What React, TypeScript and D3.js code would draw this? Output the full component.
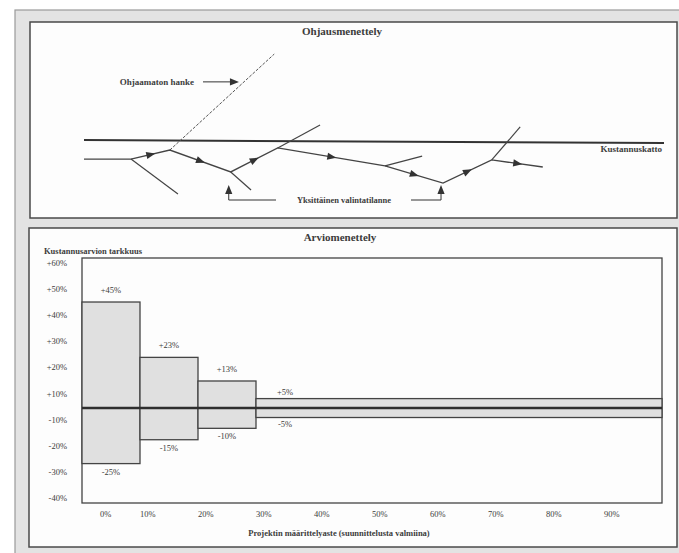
import React from 'react';
import * as d3 from 'd3';

// ---------- Arviomenettely (estimate accuracy) ----------
const phaseStart = [0, 10, 20, 30];
const phaseEnd = [10, 20, 30, 100];
const upperError = [45, 23, 13, 5];
const lowerError = [-25, -15, -10, -5];
const upperLabels = ['+45%', '+23%', '+13%', '+5%'];
const lowerLabels = ['-25%', '-15%', '-10%', '-5%'];
const yTickLabels = ['+60%', '+50%', '+40%', '+30%', '+20%', '+10%', '-10%', '-20%', '-30%', '-40%'];
const xTickValues = [0, 10, 20, 30, 40, 50, 60, 70, 80, 90];
const xTickLabels = ['0%', '10%', '20%', '30%', '40%', '50%', '60%', '70%', '80%', '90%'];

// ---------- Ohjausmenettely (control procedure) schematic: time / cost ----------
const pathTime = [0, 8.1, 14.8, 25.3, 33.4, 51.9, 61.9, 70.3, 79.1];
const pathCost = [27.3, 27.3, 33.3, 18.7, 34.7, 22.7, 11.3, 26.7, 22];
const branchFrom = [1, 3, 4, 5, 7];
const branchToTime = [16.2, 28.8, 40.7, 58.3, 75.2];
const branchToCost = [4, 6.7, 50, 29.3, 48.7];
const uncontrolledTime = [14.8, 32.8];
const uncontrolledCost = [33.3, 97.3];
const costCeiling = 39.3;
const choicePoints = [3, 6];

const FONT = "'Liberation Serif', 'DejaVu Serif', serif";
const INK = '#333';
const TXT = '#3c3c3c';

function Tri({ x, y, angle, size = 1 }: { x: number; y: number; angle: number; size?: number }) {
  const s = size;
  return (
    <path
      d={`M${5 * s},0 L${-4 * s},${-3.6 * s} L${-4 * s},${3.6 * s} Z`}
      transform={`translate(${x},${y}) rotate(${angle})`}
      fill={INK}
    />
  );
}

export default function App() {
  const W = 679;
  const H = 553;

  // top schematic scales
  const xs = d3.scaleLinear().domain([0, 100]).range([84, 664]);
  const ys = d3.scaleLinear().domain([0, 100]).range([200, 50]);

  // bottom chart scales
  const x = d3.scaleLinear().domain([0, 100]).range([82, 662]);
  const y = d3.scalePow().exponent(1.1).domain([-40.7, 61.7]).range([503, 258]);
  const yTick = d3.scalePoint<string>().domain(yTickLabels).range([263, 498]);

  const pts = pathTime.map((t, i) => [xs(t), ys(pathCost[i])] as [number, number]);
  const line = d3.line();

  const arrows = pts.slice(1).map((p, i) => {
    const a = pts[i];
    if (i === 0) return null;
    const f = 0.5;
    const mx = a[0] + (p[0] - a[0]) * f;
    const my = a[1] + (p[1] - a[1]) * f;
    const ang = (Math.atan2(p[1] - a[1], p[0] - a[0]) * 180) / Math.PI;
    return <Tri key={i} x={mx} y={my} angle={ang} />;
  });

  // uncontrolled line
  const u0: [number, number] = [xs(uncontrolledTime[0]), ys(uncontrolledCost[0])];
  const u1: [number, number] = [xs(uncontrolledTime[1]), ys(uncontrolledCost[1])];
  const uf = 0.71;
  const uAnnY = u0[1] + (u1[1] - u0[1]) * uf;
  const uAnnX = u0[0] + (u1[0] - u0[0]) * uf;

  const ceilY = ys(costCeiling);
  const cp = choicePoints.map((i) => pts[i]);
  const bracketY = 200;

  return (
    <svg
      width={W}
      height={H}
      style={{ position: 'absolute', left: 0, top: 0, background: '#fff' }}
      fontFamily={FONT}
    >
      {/* outer frame */}
      <rect x={15} y={10} width={680} height={560} fill="#e3e3e3" stroke="#9a9a9a" strokeWidth={1.2} />
      {/* top panel */}
      <rect x={30} y={22} width={647} height={196} fill="#fdfdfd" stroke="#4a4a4a" strokeWidth={1.5} />
      {/* bottom panel */}
      <rect x={29} y={228} width={648} height={319} fill="#fdfdfd" stroke="#4a4a4a" strokeWidth={1.5} />

      {/* ===== top: Ohjausmenettely ===== */}
      <text x={342} y={35} textAnchor="middle" fontSize={11} fontWeight="bold" fill={TXT}>
        Ohjausmenettely
      </text>

      {/* cost ceiling */}
      <line x1={xs(0)} x2={xs(100)} y1={ceilY - 1} y2={ceilY + 2} stroke={INK} strokeWidth={2} />
      <text x={662} y={152} textAnchor="end" fontSize={9} fontWeight="bold" fill={TXT}>
        Kustannuskatto
      </text>

      {/* uncontrolled project */}
      <line x1={u0[0]} y1={u0[1]} x2={u1[0]} y2={u1[1]} stroke="#555" strokeWidth={1} strokeDasharray="3,1.5" />
      <text x={194} y={85} textAnchor="end" fontSize={9} fontWeight="bold" fill={TXT}>
        Ohjaamaton hanke
      </text>
      <line x1={203} x2={uAnnX - 10} y1={uAnnY} y2={uAnnY} stroke={INK} strokeWidth={1} />
      <Tri x={uAnnX - 10} y={uAnnY} angle={0} />

      {/* branches */}
      {branchFrom.map((bi, i) => (
        <line
          key={i}
          x1={pts[bi][0]}
          y1={pts[bi][1]}
          x2={xs(branchToTime[i])}
          y2={ys(branchToCost[i])}
          stroke="#444"
          strokeWidth={1.2}
        />
      ))}
      {/* main path */}
      <path d={line(pts) || ''} fill="none" stroke="#444" strokeWidth={1.3} />
      {arrows}

      {/* choice bracket */}
      {cp.map((p, i) => (
        <g key={i}>
          <line x1={p[0] - 2} x2={p[0] - 2} y1={192} y2={bracketY} stroke={INK} strokeWidth={1} />
          <Tri x={p[0] - 2} y={190} angle={-90} />
        </g>
      ))}
      <line x1={cp[0][0] - 2} x2={276} y1={bracketY} y2={bracketY} stroke={INK} strokeWidth={1} />
      <line x1={411} x2={cp[1][0] - 2} y1={bracketY} y2={bracketY} stroke={INK} strokeWidth={1} />
      <text x={344} y={203} textAnchor="middle" fontSize={8.5} fontWeight="bold" fill={TXT}>
        Yksittäinen valintatilanne
      </text>

      {/* ===== bottom: Arviomenettely ===== */}
      <text x={340} y={241} textAnchor="middle" fontSize={11} fontWeight="bold" fill={TXT}>
        Arviomenettely
      </text>
      <text x={44} y={254} fontSize={8.5} fontWeight="bold" fill={TXT}>
        Kustannusarvion tarkkuus
      </text>

      {/* plot frame */}
      <rect x={x(0)} y={258} width={x(100) - x(0)} height={503 - 258} fill="#fdfdfd" stroke="#444" strokeWidth={1.3} />

      {/* bars */}
      {phaseStart.map((s, i) => (
        <rect
          key={i}
          x={x(s)}
          y={y(upperError[i])}
          width={x(phaseEnd[i]) - x(s)}
          height={y(lowerError[i]) - y(upperError[i])}
          fill="#e0e0e0"
          stroke="#444"
          strokeWidth={1.3}
        />
      ))}
      {/* zero line */}
      <line x1={x(0)} x2={x(100)} y1={y(0)} y2={y(0)} stroke="#2e2e2e" strokeWidth={2.4} />

      {/* value labels */}
      {phaseStart.map((s, i) => {
        const cx = (x(s) + x(s + 10)) / 2;
        return (
          <g key={i} fontSize={8.5} fill={TXT} textAnchor="middle">
            <text x={cx} y={y(upperError[i]) - (i === 3 ? 4 : 9)}>{upperLabels[i]}</text>
            <text x={cx} y={y(lowerError[i]) + (i === 3 ? 9 : 11)}>{lowerLabels[i]}</text>
          </g>
        );
      })}

      {/* y ticks */}
      {yTickLabels.map((l) => (
        <text key={l} x={67} y={(yTick(l) || 0) + 3} textAnchor="end" fontSize={8.5} fill={TXT}>
          {l}
        </text>
      ))}

      {/* x ticks */}
      {xTickValues.map((v, i) => (
        <text key={v} x={x(v) + (v === 0 ? 18 : 0)} y={517} fontSize={8.5} fill={TXT}>
          {xTickLabels[i]}
        </text>
      ))}

      <text x={339} y={536} textAnchor="middle" fontSize={8.5} fontWeight="bold" fill={TXT}>
        Projektin määrittelyaste (suunnittelusta valmiina)
      </text>
    </svg>
  );
}
